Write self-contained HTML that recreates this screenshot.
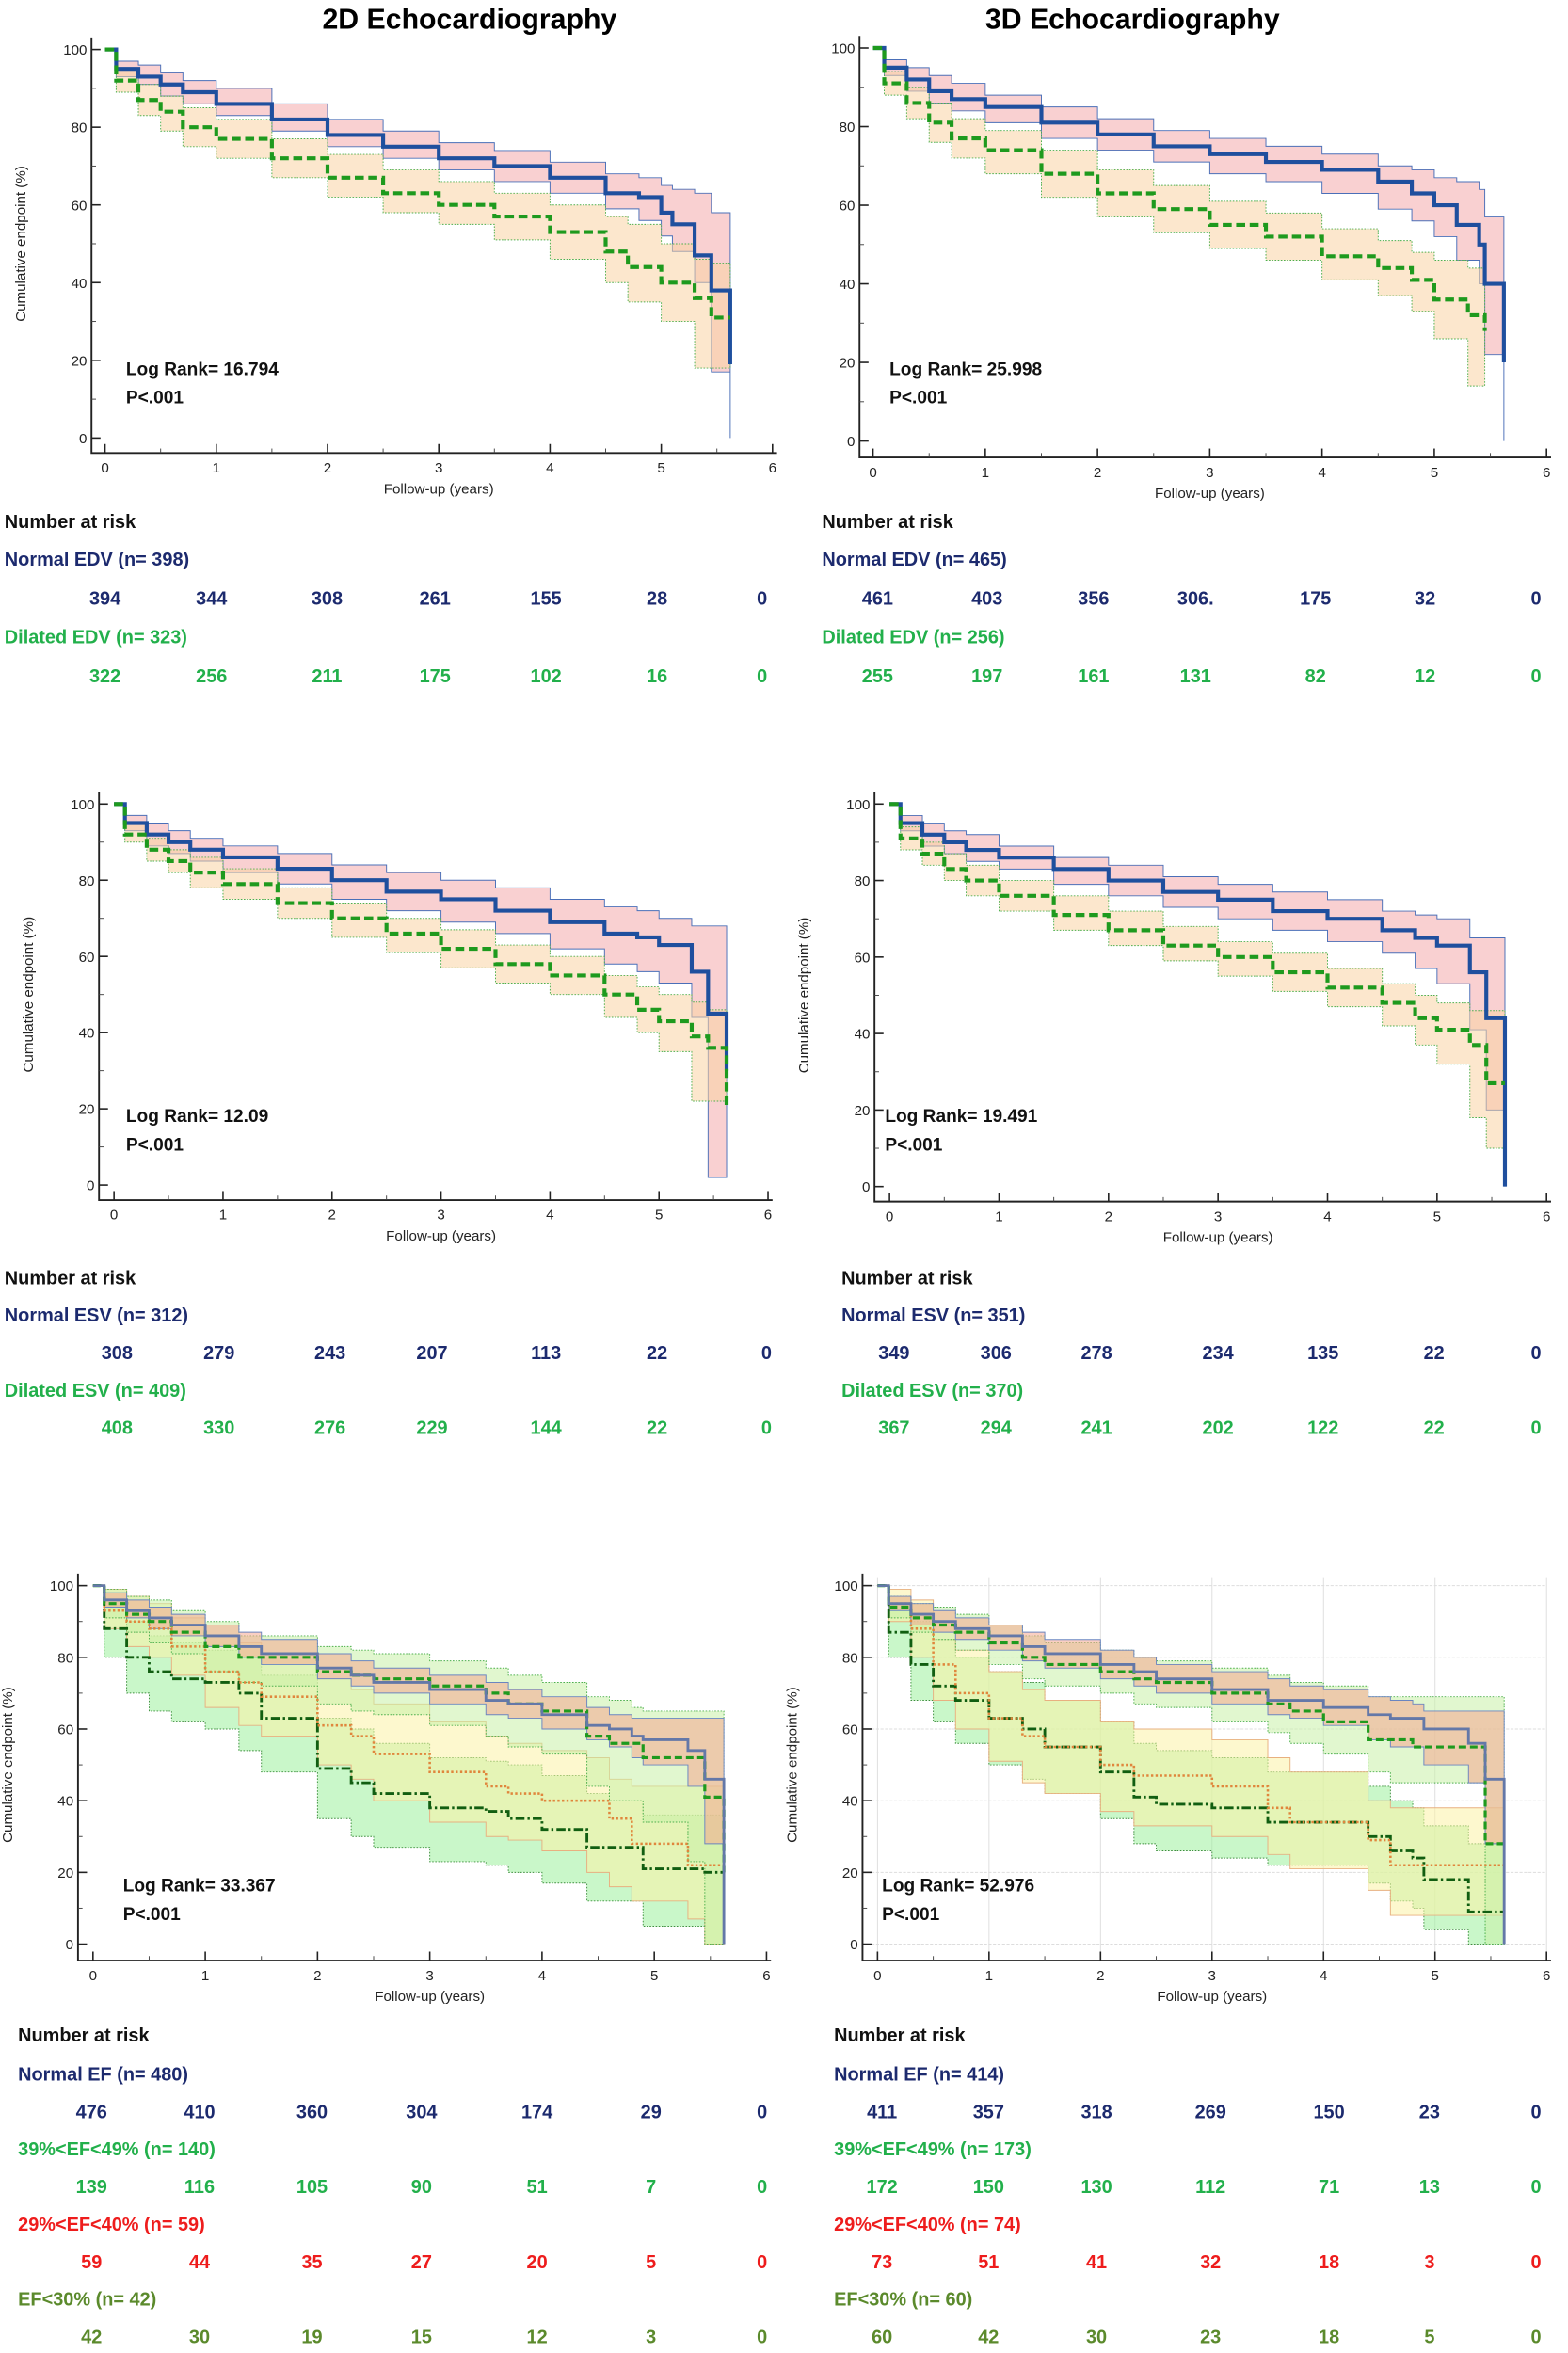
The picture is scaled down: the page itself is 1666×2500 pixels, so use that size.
<!DOCTYPE html>
<html><head><meta charset="utf-8">
<style>
html,body{margin:0;padding:0;background:#fff;}
svg{display:block;}
text{font-family:"Liberation Sans",Arial,sans-serif;}
.b{font-weight:bold;}
</style></head>
<body>
<svg id="fig" width="1666" height="2500" viewBox="0 0 1045.3 1568.6" xmlns="http://www.w3.org/2000/svg">
<text x="313" y="19" font-size="19" class="b" text-anchor="middle">2D Echocardiography</text>
<text x="755" y="19" font-size="19" class="b" text-anchor="middle">3D Echocardiography</text>
<g id="panels"></g>
</svg>
<script>
// ---------- data ----------
const yearTicks=[0,1,2,3,4,5,6];
const pctTicks=[0,20,40,60,80,100];
// Panel A: 2D EDV
const aT=[0,0.1,0.3,0.5,0.7,1,1.5,2,2.5,3,3.5,4,4.5,4.8,5,5.1,5.3,5.45,5.62];
const aNormal=[100,95,93,91,89,86,82,78,75,72,70,67,63,62,58,55,47,38,19];
const aNormalLo=[100,93,91,88,86,83,79,75,72,69,66,63,59,56,52,48,40,17,0];
const aNormalHi=[100,97,96,94,92,90,86,82,79,76,74,71,68,67,65,64,63,58,46];
const aDilT=[0,0.1,0.3,0.5,0.7,1,1.5,2,2.5,3,3.5,4,4.5,4.7,5,5.3,5.45,5.62];
const aDil=[100,92,87,84,80,77,72,67,63,60,57,53,48,44,40,36,31,31];
const aDilLo=[100,89,83,79,75,72,67,62,58,55,51,46,40,35,30,18,18,18];
const aDilHi=[100,95,91,88,85,82,77,73,69,66,63,60,57,55,50,46,45,45];
// Panel B: 3D EDV
const bT=[0,0.1,0.3,0.5,0.7,1,1.5,2,2.5,3,3.5,4,4.5,4.8,5,5.2,5.4,5.45,5.62];
const bNormal=[100,95,92,89,87,85,81,78,75,73,71,69,66,63,60,55,50,40,20];
const bNormalLo=[100,93,89,86,84,81,77,74,71,68,66,63,59,56,52,46,40,22,0];
const bNormalHi=[100,97,95,93,91,88,85,82,79,77,75,73,70,69,67,66,64,57,57];
const bDilT=[0,0.1,0.3,0.5,0.7,1,1.5,2,2.5,3,3.5,4,4.5,4.8,5,5.3,5.45];
const bDil=[100,91,86,81,77,74,68,63,59,55,52,47,44,41,36,32,28];
const bDilLo=[100,88,82,76,72,68,62,57,53,49,46,41,37,33,26,14,14];
const bDilHi=[100,94,90,86,82,79,74,69,65,61,58,54,51,48,46,44,44];
// Panel C: 2D ESV
const cT=[0,0.1,0.3,0.5,0.7,1,1.5,2,2.5,3,3.5,4,4.5,4.8,5,5.3,5.45,5.62];
const cNormal=[100,95,92,90,88,86,83,80,77,75,72,69,66,65,63,56,45,30];
const cNormalLo=[100,93,89,87,85,82,79,75,72,69,66,62,58,56,53,44,2,2];
const cNormalHi=[100,97,95,93,91,89,87,84,82,80,78,75,73,72,70,68,68,68];
const cDil=[100,92,88,85,82,79,74,70,66,62,58,55,50,46,43,39,36,20];
const cDilLo=[100,90,85,82,78,75,70,65,61,57,53,50,44,40,35,22,22,22];
const cDilHi=[100,95,91,88,86,83,78,74,70,67,63,60,55,52,50,48,46,46];
// Panel D: 3D ESV
const dNormal=[100,95,92,90,88,86,83,80,77,75,72,70,67,65,63,56,44,0];
const dNormalLo=[100,93,89,87,85,83,79,76,73,70,67,64,61,57,53,41,20,0];
const dNormalHi=[100,97,95,93,92,89,86,84,81,79,77,75,72,71,70,65,65,65];
const dDil=[100,91,87,83,80,76,71,67,63,60,56,52,48,44,41,37,27,27];
const dDilLo=[100,88,84,80,76,72,67,63,59,55,51,47,42,37,32,18,10,0];
const dDilHi=[100,94,90,87,84,80,76,72,68,64,61,57,53,50,48,46,46,46];
// Panel E: 2D EF
const eT=[0,0.1,0.3,0.5,0.7,1,1.3,1.5,2,2.3,2.5,3,3.5,3.7,4,4.4,4.6,4.8,4.9,5.3,5.45,5.62];
const eNormal=[100,96,93,91,89,86,83,81,77,75,73,71,68,67,64,61,60,58,57,54,46,0];
const eNormalLo=[100,94,91,88,86,83,80,78,74,72,70,67,64,63,60,57,55,52,50,44,28,0];
const eNormalHi=[100,98,96,94,92,89,87,85,81,79,77,75,73,71,69,66,64,63,63,63,63,63];
const eMild=[100,95,92,90,87,83,80,80,76,75,74,72,70,67,65,58,56,56,52,52,41,20];
const eMildLo=[100,91,87,84,81,76,73,72,67,65,64,61,58,55,53,44,40,40,34,23,0,0];
const eMildHi=[100,99,97,96,93,90,86,86,83,82,81,79,77,75,73,69,68,66,65,65,65,65];
const eMod=[100,93,90,88,83,76,73,69,61,58,53,48,44,42,40,40,35,28,28,22,22,20];
const eModLo=[100,88,83,80,75,66,61,58,50,46,40,34,30,29,26,20,16,12,12,7,0,0];
const eModHi=[100,99,97,95,91,86,84,81,74,71,67,62,58,56,54,52,46,44,44,44,44,44];
const eSev=[100,88,80,76,74,73,70,63,49,45,42,38,37,35,32,27,27,27,21,21,20,20];
const eSevLo=[100,80,70,65,62,60,54,48,35,30,27,23,22,20,17,12,12,12,5,5,0,0];
const eSevHi=[100,96,90,86,84,82,80,75,63,60,56,52,51,50,47,42,40,40,36,36,36,36];
// Panel F: 3D EF
const fT=[0,0.1,0.3,0.5,0.7,1,1.3,1.5,2,2.3,2.5,3,3.5,3.7,4,4.4,4.6,4.8,4.9,5.3,5.45,5.62];
const fNormal=[100,95,92,90,88,86,83,81,78,76,74,71,68,68,66,64,63,63,60,56,46,0];
const fNormalLo=[100,93,89,87,85,82,79,77,74,72,70,67,64,63,61,57,55,55,50,45,28,0];
const fNormalHi=[100,97,95,93,91,89,87,85,82,80,78,76,74,72,71,69,68,67,65,65,65,65];
const fMild=[100,94,91,89,87,84,80,78,76,74,73,70,67,65,62,57,57,55,55,55,28,28];
const fMildLo=[100,91,87,85,82,78,74,72,70,67,66,62,59,56,53,48,45,45,45,45,0,0];
const fMildHi=[100,97,95,94,92,89,86,84,82,80,79,77,75,73,72,69,69,69,69,69,69,69];
const fMod=[100,95,88,78,70,63,58,55,50,47,47,44,38,34,34,29,22,22,22,22,22,22];
const fModLo=[100,90,80,68,60,51,45,42,37,33,33,30,25,21,21,15,8,8,8,8,8,8];
const fModHi=[100,99,96,90,82,76,71,68,62,60,60,57,52,48,48,40,38,38,38,38,38,38];
const fSev=[100,87,78,72,68,63,60,55,48,41,39,38,34,34,34,30,26,24,18,9,9,9];
const fSevLo=[100,80,68,62,56,50,46,42,35,28,26,24,22,22,22,17,12,10,4,0,0,0];
const fSevHi=[100,95,90,85,80,76,73,68,62,56,54,52,48,48,48,44,40,38,33,28,28,28];

// risk tables
const aRiskN=[394,344,308,261,155,28,0]; const aRiskD=[322,256,211,175,102,16,0];
const bRiskN=[461,403,356,"306.",175,32,0]; const bRiskD=[255,197,161,131,82,12,0];
const cRiskN=[308,279,243,207,113,22,0]; const cRiskD=[408,330,276,229,144,22,0];
const dRiskN=[349,306,278,234,135,22,0]; const dRiskD=[367,294,241,202,122,22,0];
const eRisk1=[476,410,360,304,174,29,0]; const eRisk2=[139,116,105,90,51,7,0];
const eRisk3=[59,44,35,27,20,5,0]; const eRisk4=[42,30,19,15,12,3,0];
const fRisk1=[411,357,318,269,150,23,0]; const fRisk2=[172,150,130,112,71,13,0];
const fRisk3=[73,51,41,32,18,3,0]; const fRisk4=[60,42,30,23,18,5,0];

// ---------- drawing ----------
const NS="http://www.w3.org/2000/svg";
const root=document.getElementById('panels');
function mk(tag,attrs,parent){const e=document.createElementNS(NS,tag);for(const k in attrs)e.setAttribute(k,attrs[k]);(parent||root).appendChild(e);return e;}
function stepPath(T,S,sx,sy){let d="M"+sx(T[0])+","+sy(S[0]);for(let i=1;i<T.length;i++){d+=" H"+sx(T[i])+" V"+sy(S[i]);}return d;}
function bandPath(T,L,H,sx,sy){let d="M"+sx(T[0])+","+sy(H[0]);for(let i=1;i<T.length;i++){d+=" H"+sx(T[i])+" V"+sy(H[i]);}
  d+=" V"+sy(L[L.length-1]);for(let i=T.length-1;i>0;i--){d+=" H"+sx(T[i])+" V"+sy(L[i-1]);}d+=" H"+sx(T[0])+" Z";return d;}

const NAVY="#1c2a6e",GREEN="#22b04b",RED="#ee1c1c",OLIVE="#5b8a2c";
function panel(cfg){
  const g=mk('g',{});
  
  
  const sx=t=>cfg.x0+(cfg.x6-cfg.x0)*t/6, sy=v=>cfg.y0+(cfg.y100-cfg.y0)*v/100;
  if(cfg.grid){for(const t of yearTicks){const l=mk('line',{x1:sx(t),x2:sx(t),y1:cfg.y100-5,y2:cfg.axisY,stroke:"#ddd","stroke-width":0.6},g);}
    for(const v of pctTicks){const l=mk('line',{x1:cfg.axisX,x2:sx(6),y1:sy(v),y2:sy(v),stroke:"#ddd","stroke-width":0.6,"stroke-dasharray":"2,1"},g);}}
  for(const s of cfg.series){
    const b=mk('path',{d:bandPath(s.t,s.lo,s.hi,sx,sy),fill:s.band,"fill-opacity":0.55,stroke:s.bandStroke,"stroke-width":0.6,"stroke-dasharray":s.bandDash||"none"},g);
    
  }
  for(const s of cfg.series){
    const p=mk('path',{d:stepPath(s.t,s.s,sx,sy),fill:"none",stroke:s.color,"stroke-width":s.w,"stroke-dasharray":s.dash||"none"},g);
    
  }
  // axes
  const ax=mk('path',{d:`M${cfg.axisX},${cfg.y100-8} V${cfg.axisY} H${sx(6)+3}`,fill:"none",stroke:"#222","stroke-width":1.2},g);
  
  for(const t of yearTicks){
    const tk=mk('line',{x1:sx(t),x2:sx(t),y1:cfg.axisY,y2:cfg.axisY-6,stroke:"#222","stroke-width":1},g);
    if(t<6){const m=mk('line',{x1:sx(t+0.5),x2:sx(t+0.5),y1:cfg.axisY,y2:cfg.axisY-3,stroke:"#444","stroke-width":0.6},g);}
    const lb=mk('text',{x:sx(t),y:cfg.axisY+13,"font-size":9.5,"text-anchor":"middle",fill:"#222"},g);lb.textContent=t;
  }
  for(const v of pctTicks){
    const tk=mk('line',{x1:cfg.axisX,x2:cfg.axisX+6,y1:sy(v),y2:sy(v),stroke:"#222","stroke-width":1},g);
    if(v<100){const m=mk('line',{x1:cfg.axisX,x2:cfg.axisX+3,y1:sy(v+10),y2:sy(v+10),stroke:"#444","stroke-width":0.6},g);}
    const lb=mk('text',{x:cfg.axisX-3,y:sy(v)+3.5,"font-size":9.5,"text-anchor":"end",fill:"#222"},g);lb.textContent=v;
  }
  const xt=mk('text',{x:(sx(0)+sx(6))/2,y:cfg.axisY+27,"font-size":9.5,"text-anchor":"middle",fill:"#222"},g);xt.textContent="Follow-up (years)";
  
  if(cfg.ytitle!==false){const yt=mk('text',{x:0,y:0,"font-size":9.5,"text-anchor":"middle",fill:"#222",transform:`translate(${cfg.axisX-44},${(cfg.y0+cfg.y100)/2}) rotate(-90)`},g);yt.textContent="Cumulative endpoint (%)";
  }
  const l1=mk('text',{x:cfg.lrX,y:cfg.lrY,"font-size":12,class:"b",fill:"#111"},g);l1.textContent="Log Rank= "+cfg.logrank;
  
  const l2=mk('text',{x:cfg.lrX,y:cfg.lrY+19,"font-size":12,class:"b",fill:"#111"},g);l2.textContent="P<.001";
  
  // risk table
  const h=mk('text',{x:cfg.rX,y:cfg.rY[0],"font-size":12.5,class:"b",fill:"#111"},g);h.textContent="Number at risk";
  
  cfg.rows.forEach((r,i)=>{
    const lt=mk('text',{x:cfg.rX,y:cfg.rY[1+2*i],"font-size":12.5,class:"b",fill:r.color},g);lt.textContent=r.label;
    
    r.vals.forEach((v,j)=>{const nt=mk('text',{x:cfg.rXs[j],y:cfg.rY[2+2*i],"font-size":12.5,class:"b",fill:r.color,"text-anchor":"middle"},g);nt.textContent=v;
      });
  });
}
const BLUE="#1f4f9e",DG="#1e9a1e";
function twoSeries(t1,n,nl,nh,t2,d,dl,dh){return [
 {key:'normal',t:t1,s:n,lo:nl,hi:nh,color:BLUE,w:2.6,band:"#f4a9ab",bandStroke:"#4a6fb8"},
 {key:'dilated',t:t2,s:d,lo:dl,hi:dh,color:DG,w:2.6,dash:"6,3",band:"#f9d3a4",bandStroke:"#4caf4c",bandDash:"1,1"}];}
function fourSeries(t,a,al,ah,b,bl,bh,c,cl,ch,d,dl,dh){return [
 {key:'ef-severe',t:t,s:d,lo:dl,hi:dh,color:"#115e11",w:1.8,dash:"6,2,1.5,2",band:"#9cf09c",bandStroke:"#3d8f3d",bandDash:"1,1"},
 {key:'ef-moderate',t:t,s:c,lo:cl,hi:ch,color:"#e0863c",w:1.6,dash:"1.5,1.5",band:"#fbf3a6",bandStroke:"#e8b080"},
 {key:'ef-mild',t:t,s:b,lo:bl,hi:bh,color:DG,w:2,dash:"5,2.5",band:"#c8f0a8",bandStroke:"#4caf4c",bandDash:"1,1"},
 {key:'ef-normal',t:t,s:a,lo:al,hi:ah,color:"#6478a8",w:1.8,band:"#f5a890",bandStroke:"#6a85c0"}];}

panel({name:'panel-2d-edv',x0:70,x6:515,y100:33,y0:292,axisY:302,axisX:61,logrank:"16.794",lrX:84,lrY:250,
 series:twoSeries(aT,aNormal,aNormalLo,aNormalHi,aDilT,aDil,aDilLo,aDilHi),
 rX:3,rY:[352,377,403,429,455],rXs:[70,141,218,290,364,438,508],
 rows:[{label:"Normal EDV (n= 398)",color:NAVY,vals:aRiskN},{label:"Dilated EDV (n= 323)",color:GREEN,vals:aRiskD}]});
panel({name:'panel-3d-edv',x0:582,x6:1031,y100:32,y0:294,axisY:305,axisX:573,logrank:"25.998",lrX:593,lrY:250,ytitle:false,
 series:twoSeries(bT,bNormal,bNormalLo,bNormalHi,bDilT,bDil,bDilLo,bDilHi),
 rX:548,rY:[352,377,403,429,455],rXs:[585,658,729,797,877,950,1024],
 rows:[{label:"Normal EDV (n= 465)",color:NAVY,vals:bRiskN},{label:"Dilated EDV (n= 256)",color:GREEN,vals:bRiskD}]});
panel({name:'panel-2d-esv',x0:76,x6:512,y100:536,y0:790,axisY:800,axisX:66,logrank:"12.09",lrX:84,lrY:748,
 series:twoSeries(cT,cNormal,cNormalLo,cNormalHi,cT,cDil,cDilLo,cDilHi),
 rX:3,rY:[856,881,906,931,956],rXs:[78,146,220,288,364,438,511],
 rows:[{label:"Normal ESV (n= 312)",color:NAVY,vals:cRiskN},{label:"Dilated ESV (n= 409)",color:GREEN,vals:cRiskD}]});
panel({name:'panel-3d-esv',x0:593,x6:1031,y100:536,y0:791,axisY:801,axisX:583,logrank:"19.491",lrX:590,lrY:748,
 series:twoSeries(cT,dNormal,dNormalLo,dNormalHi,cT,dDil,dDilLo,dDilHi),
 rX:561,rY:[856,881,906,931,956],rXs:[596,664,731,812,882,956,1024],
 rows:[{label:"Normal ESV (n= 351)",color:NAVY,vals:dRiskN},{label:"Dilated ESV (n= 370)",color:GREEN,vals:dRiskD}]});
panel({name:'panel-2d-ef',x0:62,x6:511,y100:1057,y0:1296,axisY:1307,axisX:52,logrank:"33.367",lrX:82,lrY:1261,
 series:fourSeries(eT,eNormal,eNormalLo,eNormalHi,eMild,eMildLo,eMildHi,eMod,eModLo,eModHi,eSev,eSevLo,eSevHi),
 rX:12,rY:[1361,1387,1412,1437,1462,1487,1512,1537,1562],rXs:[61,133,208,281,358,434,508],
 rows:[{label:"Normal EF (n= 480)",color:NAVY,vals:eRisk1},{label:"39%<EF<49% (n= 140)",color:GREEN,vals:eRisk2},
       {label:"29%<EF<40% (n= 59)",color:RED,vals:eRisk3},{label:"EF<30% (n= 42)",color:OLIVE,vals:eRisk4}]});
panel({name:'panel-3d-ef',x0:585,x6:1031,y100:1057,y0:1296,axisY:1307,axisX:575,logrank:"52.976",lrX:588,lrY:1261,grid:true,
 series:fourSeries(fT,fNormal,fNormalLo,fNormalHi,fMild,fMildLo,fMildHi,fMod,fModLo,fModHi,fSev,fSevLo,fSevHi),
 rX:556,rY:[1361,1387,1412,1437,1462,1487,1512,1537,1562],rXs:[588,659,731,807,886,953,1024],
 rows:[{label:"Normal EF (n= 414)",color:NAVY,vals:fRisk1},{label:"39%<EF<49% (n= 173)",color:GREEN,vals:fRisk2},
       {label:"29%<EF<40% (n= 74)",color:RED,vals:fRisk3},{label:"EF<30% (n= 60)",color:OLIVE,vals:fRisk4}]});
</script>
</body></html>
